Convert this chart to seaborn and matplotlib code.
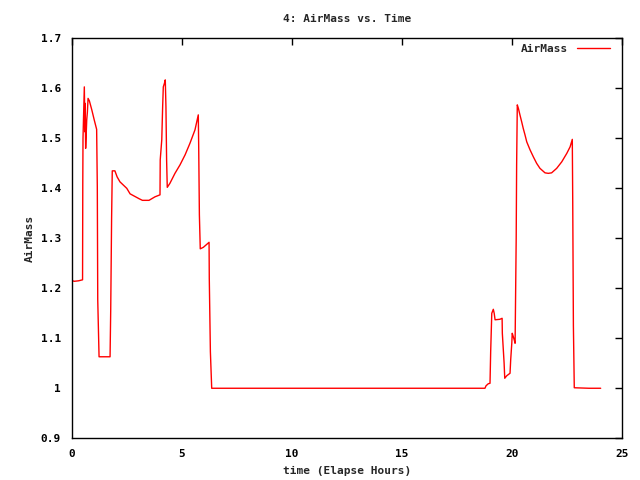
import numpy as np
import pandas as pd
import matplotlib
matplotlib.use("Agg")
import matplotlib.pyplot as plt
import seaborn as sns

# elapsed hours and airmass
hours = [
    0.03, 0.10, 0.30, 0.48, 0.49, 0.50, 0.56, 0.59, 0.60, 0.62, 0.67, 0.70, 0.73,
    0.79, 0.90, 1.01, 1.12, 1.15, 1.17, 1.23, 1.73, 1.76, 1.80, 1.83, 1.95,
    2.05, 2.18, 2.49, 2.64, 3.06, 3.20, 3.50, 3.77, 4.00, 4.01, 4.08, 4.12,
    4.15, 4.20, 4.24, 4.27, 4.30, 4.33, 4.45, 4.68, 4.91, 5.14, 5.36, 5.59,
    5.74, 5.76, 5.79, 5.83, 5.97, 6.23, 6.24, 6.29, 6.35,
    10.0, 15.0, 18.77, 18.82, 18.92, 19.00, 19.03, 19.08, 19.15, 19.19, 19.23,
    19.45, 19.55, 19.56, 19.64, 19.67, 19.76, 19.91, 19.94, 19.99, 20.01,
    20.06, 20.10, 20.14, 20.19, 20.21, 20.24, 20.29, 20.36, 20.44, 20.51,
    20.59, 20.67, 20.82, 20.97, 21.12, 21.27, 21.50, 21.65, 21.80, 22.03,
    22.26, 22.49, 22.64, 22.74, 22.76, 22.79, 22.83, 23.50, 24.03,
]
airmass = [
    1.215, 1.214, 1.215, 1.217, 1.409, 1.500, 1.603, 1.513, 1.570, 1.480,
    1.537, 1.553, 1.580, 1.575, 1.557, 1.537, 1.518, 1.403, 1.177, 1.063,
    1.063, 1.157, 1.340, 1.435, 1.435, 1.423, 1.413, 1.400, 1.389, 1.379,
    1.376, 1.376, 1.383, 1.387, 1.457, 1.497, 1.563, 1.603, 1.610, 1.617,
    1.563, 1.457, 1.402, 1.410, 1.430, 1.447, 1.467, 1.490, 1.517, 1.547,
    1.480, 1.347, 1.279, 1.282, 1.292, 1.220, 1.073, 1.000,
    1.000, 1.000, 1.000, 1.005, 1.009, 1.010, 1.073, 1.150, 1.158, 1.150,
    1.137, 1.138, 1.140, 1.110, 1.051, 1.020, 1.025, 1.030, 1.057, 1.090,
    1.110, 1.103, 1.097, 1.090, 1.300, 1.447, 1.567, 1.560, 1.547, 1.533,
    1.520, 1.507, 1.493, 1.477, 1.463, 1.450, 1.440, 1.431, 1.430, 1.431,
    1.440, 1.453, 1.470, 1.483, 1.498, 1.373, 1.125, 1.001, 1.000, 1.000,
]

df = pd.DataFrame({"hours": hours, "airmass": airmass, "series": "AirMass"})

sns.set_style("white")
plt.rcParams["font.family"] = ["DejaVu Sans Mono"]
plt.rcParams["font.weight"] = "bold"
plt.rcParams["font.size"] = 8

fig = plt.figure(figsize=(6.4, 4.8), dpi=100)
ax = fig.add_axes([0.1125, 0.087, 0.8594, 0.833])

sns.lineplot(data=df, x="hours", y="airmass", hue="series", palette=["#ff0000"],
             estimator=None, sort=False, linewidth=1, ax=ax)

ax.set_xlim(0, 25)
ax.set_ylim(0.9, 1.7)
ax.set_xticks([0, 5, 10, 15, 20, 25])
ax.set_yticks([0.9, 1.0, 1.1, 1.2, 1.3, 1.4, 1.5, 1.6, 1.7])
ax.set_yticklabels(["0.9", "1", "1.1", "1.2", "1.3", "1.4", "1.5", "1.6", "1.7"])
ax.tick_params(direction="in", length=5, width=1, top=True, right=True,
               labelsize=8, pad=8, colors="black")
for s in ax.spines.values():
    s.set_color("black")
    s.set_linewidth(1)

ax.set_xlabel("time (Elapse Hours)", fontsize=8, fontweight="bold", labelpad=5)
ax.set_ylabel("AirMass", fontsize=8, fontweight="bold", labelpad=4)
ax.set_title("4: AirMass vs. Time", fontsize=8, fontweight="bold", pad=12)

ax.legend(loc="upper right", bbox_to_anchor=(0.9927, 1.005), frameon=False,
          markerfirst=False, handlelength=3.0, fontsize=8, borderaxespad=0.3,
          handletextpad=0.8)

fig.savefig("out.png", dpi=100)
